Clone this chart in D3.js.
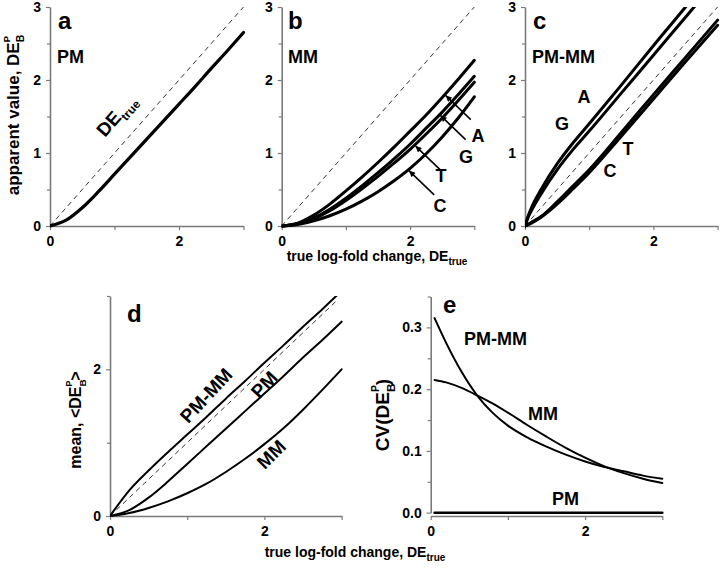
<!DOCTYPE html>
<html><head><meta charset="utf-8">
<script src="https://cdn.jsdelivr.net/npm/d3@7"></script>
<style>
body{margin:0;background:#fff}
svg text{font-family:"Liberation Sans",Arial,sans-serif;font-weight:bold;fill:#000}
</style></head><body>
<svg id="chart" width="720" height="569"></svg>
<script>
// ---------------- data ----------------
const xTrue = [0,0.25,0.5,0.75,1,1.25,1.5,1.75,2,2.25,2.5,2.75,3];
const pmValues = [0,0.08,0.25,0.47,0.71,0.95,1.19,1.43,1.67,1.91,2.16,2.4,2.65];

const mmA = [0,0.04,0.15,0.30,0.48,0.67,0.87,1.08,1.30,1.52,1.76,2.01,2.27];
const mmG = [0,0.03,0.11,0.23,0.38,0.55,0.73,0.92,1.12,1.34,1.56,1.80,2.05];
const mmT = [0,0.03,0.10,0.21,0.35,0.51,0.68,0.86,1.05,1.26,1.48,1.72,1.97];
const mmC = [0,0.02,0.07,0.14,0.23,0.34,0.47,0.62,0.79,0.99,1.22,1.48,1.77];

const xPair = [0,0.05,0.1,0.25,0.5,0.75,1,1.5,2,2.5,3];
const pairA = [0,0.14,0.25,0.50,0.85,1.14,1.40,1.93,2.47,3.00,3.55];
const pairG = [0,0.12,0.21,0.44,0.77,1.05,1.30,1.82,2.34,2.86,3.38];
const pairT = [0,0.02,0.05,0.13,0.33,0.55,0.77,1.28,1.80,2.31,2.82];
const pairC = [0,0.02,0.04,0.12,0.30,0.51,0.73,1.23,1.74,2.25,2.75];

const meanPMMM = [0,0.35,0.62,0.87,1.11,1.35,1.60,1.84,2.09,2.33,2.58,2.82,3.07];
const meanPM   = [0,0.08,0.25,0.47,0.71,0.95,1.19,1.43,1.67,1.91,2.16,2.40,2.65];
const meanMM   = [0,0.04,0.11,0.20,0.31,0.44,0.60,0.78,0.98,1.20,1.45,1.72,2.00];

const xCV   = [0.05,0.2,0.4,0.6,0.8,1,1.25,1.5,1.75,2,2.25,2.5,2.75,3];
const cvPMMM = [0.315,0.275,0.228,0.19,0.162,0.141,0.122,0.107,0.094,0.083,0.074,0.067,0.06,0.055];
const cvMM   = [0.215,0.211,0.202,0.19,0.177,0.162,0.142,0.123,0.105,0.089,0.075,0.064,0.055,0.048];
const cvPM   = [0,0,0,0,0,0,0,0,0,0,0,0,0,0];

const xTicks = [0,1,2,3], xTickLabels = [0,2];
const yTicksTop = [0,0.5,1,1.5,2,2.5,3], yTickLabelsTop = [0,1,2,3];
const yTicksD = [0,1,2,3], yTickLabelsD = [0,2];
const yTicksE = [0,0.05,0.1,0.15,0.2,0.25,0.3,0.35], yTickLabelsE = [0,0.1,0.2,0.3];

// ---------------- drawing ----------------
const svg = d3.select("#chart");
const AXC = "#7a7a7a";
let clipId = 0;
const zip = (xs, ys) => xs.map((v,i)=>[v, ys[i]]);
const near = (a,b) => Math.abs(a-b) < 1e-9;

function panel(cfg){
  const g = svg.append("g");
  const x = d3.scaleLinear().domain(cfg.xd).range(cfg.xr);
  const y = d3.scaleLinear().domain(cfg.yd).range(cfg.yr);
  const xAxisY = cfg.xAxisY !== undefined ? cfg.xAxisY : cfg.yr[0];
  const xa = g.append("g").attr("transform",`translate(0,${xAxisY})`)
    .call(d3.axisBottom(x).tickValues(cfg.xTicks)
      .tickFormat(d => cfg.xLabels.some(v=>near(v,d)) ? d3.format("d")(d) : "")
      .tickSizeInner(4).tickSizeOuter(0).tickPadding(6));
  const ya = g.append("g").attr("transform",`translate(${cfg.xr[0]},0)`)
    .call(d3.axisLeft(y).tickValues(cfg.yTicks)
      .tickFormat(d => cfg.yLabels.some(v=>near(v,d)) ? d3.format(cfg.yFmt||"d")(d) : "")
      .tickSizeInner(4).tickSizeOuter(0).tickPadding(5));
  [xa, ya].forEach(a=>{
    a.select(".domain").attr("stroke",AXC).attr("stroke-width",1.6);
    a.selectAll(".tick line").attr("stroke",AXC).attr("stroke-width",1.2);
    a.selectAll(".tick text").style("font-size","14px").style("font-weight","bold")
      .style("font-family",'"Liberation Sans",Arial,sans-serif').attr("fill","#000");
  });
  ya.selectAll(".tick").filter(d=>!cfg.yLabels.some(v=>near(v,d))).select("line").attr("x2",-3);
  const id = "clip" + (clipId++);
  g.append("clipPath").attr("id",id).append("rect")
    .attr("x",cfg.xr[0]).attr("y",cfg.yr[1]).attr("width",cfg.xr[1]-cfg.xr[0]+3).attr("height",cfg.yr[0]-cfg.yr[1]+3);
  const plot = g.append("g").attr("clip-path",`url(#${id})`);
  return {g, x, y, plot};
}

function curve(p, xs, ys, w){
  const line = d3.line().x(d=>p.x(d[0])).y(d=>p.y(d[1])).curve(d3.curveMonotoneX);
  p.plot.append("path").datum(zip(xs,ys)).attr("d",line)
    .attr("fill","none").attr("stroke","#000").attr("stroke-width",w).attr("stroke-linecap","round");
}
function dashed(p, x1){
  p.plot.append("line").attr("x1",p.x(0)).attr("y1",p.y(0)).attr("x2",p.x(x1)).attr("y2",p.y(x1))
    .attr("stroke","#333").attr("stroke-width",1).attr("stroke-dasharray","5,4");
}
function label(g, txt, x, y, size, rot, anchor){
  const t = g.append("text").attr("x",x).attr("y",y).style("font-size",size+"px")
    .attr("text-anchor",anchor||"start").text(txt);
  if (rot) t.attr("transform",`rotate(${rot},${x},${y})`);
  return t;
}
function deBP(t, size){
  t.append("tspan").text("DE");
  t.append("tspan").attr("dy",size*0.3).style("font-size",(size*0.62)+"px").text("B");
  t.append("tspan").attr("dx",-size*0.45).attr("dy",-size*0.85).style("font-size",(size*0.55)+"px").text("P");
}
const interp = (xs, ys, v) => d3.scaleLinear().domain(xs).range(ys)(v);

const topCfg = {yd:[0,3], yr:[226,7], xd:[0,3], xTicks, xLabels:xTickLabels, yTicks:yTicksTop, yLabels:yTickLabelsTop};

// panel a
const pa = panel({...topCfg, xr:[50,243.5]});
dashed(pa, 3);
curve(pa, xTrue, pmValues, 3.2);
label(pa.g, "a", 58, 29, 24);
label(pa.g, "PM", 57, 63, 18);
{
  const t = label(pa.g, "", 105, 138, 19, -48.7);
  t.append("tspan").text("DE");
  t.append("tspan").attr("dy",5).style("font-size","12px").text("true");
}

// panel b
const pb = panel({...topCfg, xr:[281.7,474.3]});
dashed(pb, 3);
[mmA, mmG, mmT, mmC].forEach(s => curve(pb, xTrue, s, 3));
label(pb.g, "b", 288, 29, 24);
label(pb.g, "MM", 288, 63, 18);
const defs = svg.append("defs");
defs.append("marker").attr("id","arr").attr("viewBox","0 0 10 10").attr("refX",10).attr("refY",5)
  .attr("markerWidth",9).attr("markerHeight",6).attr("orient","auto").attr("markerUnits","userSpaceOnUse")
  .append("path").attr("d","M0,0L10,5L0,10z").attr("fill","#000");
const arrows = [
  {s:mmA, at:2.54, name:"A", lx:478, ly:142},
  {s:mmG, at:2.46, name:"G", lx:466, ly:163},
  {s:mmT, at:2.07, name:"T", lx:441, ly:182},
  {s:mmC, at:1.97, name:"C", lx:440, ly:212}
];
arrows.forEach(a=>{
  const tx = pb.x(a.at), ty = pb.y(interp(xTrue, a.s, a.at));
  pb.g.append("line").attr("x1",tx+26).attr("y1",ty+25).attr("x2",tx+1).attr("y2",ty+1)
    .attr("stroke","#000").attr("stroke-width",1.6).attr("marker-end","url(#arr)");
  label(pb.g, a.name, a.lx, a.ly, 18, 0, "middle");
});

// panel c
const pc = panel({...topCfg, xr:[525,717.6]});
dashed(pc, 3);
[pairA, pairG, pairT, pairC].forEach(s => curve(pc, xPair, s, 3));
label(pc.g, "c", 533, 29, 24);
label(pc.g, "PM-MM", 532, 63, 18);
label(pc.g, "A", 584, 103, 18, 0, "middle");
label(pc.g, "G", 562, 130, 18, 0, "middle");
label(pc.g, "T", 628, 155, 18, 0, "middle");
label(pc.g, "C", 610, 177, 18, 0, "middle");

// panel d
const pd = panel({xd:[0,3], xr:[110,341.6], yd:[0,3], yr:[516,296], xTicks, xLabels:xTickLabels, yTicks:yTicksD, yLabels:yTickLabelsD});
dashed(pd, 2.95);
curve(pd, xTrue, meanPMMM, 2);
curve(pd, xTrue, meanPM, 2);
curve(pd, xTrue, meanMM, 2);
label(pd.g, "d", 127, 322, 24);
label(pd.g, "PM-MM", 211, 400, 19, -47, "middle");
label(pd.g, "PM", 269, 389, 19, -47, "middle");
label(pd.g, "MM", 276, 459, 19, -45, "middle");

// panel e
const pe = panel({xd:[0,3], xr:[430.7,662.3], yd:[0,0.35], yr:[512.7,296.5], xAxisY:516, xTicks, xLabels:xTickLabels, yTicks:yTicksE, yLabels:yTickLabelsE, yFmt:".1f"});
curve(pe, xCV, cvPMMM, 2);
curve(pe, xCV, cvMM, 2);
curve(pe, xCV, cvPM, 2.5);
label(pe.g, "e", 443, 313, 24);
label(pe.g, "PM-MM", 464, 345, 18);
label(pe.g, "MM", 528, 420, 18);
label(pe.g, "PM", 552, 505, 18);

// axis titles
{
  const t = label(svg, "", 19, 115, 17, -90, "middle");
  t.append("tspan").text("apparent value, ");
  deBP(t, 17);
}
{
  const t = label(svg, "", 377, 261, 14, 0, "middle");
  t.append("tspan").text("true log-fold change, DE");
  t.append("tspan").attr("dy",4).style("font-size","10px").text("true");
}
{
  const t = label(svg, "", 355, 557, 14, 0, "middle");
  t.append("tspan").text("true log-fold change, DE");
  t.append("tspan").attr("dy",4).style("font-size","10px").text("true");
}
{
  const t = label(svg, "", 81, 420, 16, -90, "middle");
  t.append("tspan").text("mean, <");
  deBP(t, 16);
  t.append("tspan").attr("dy",16*0.55).text(">");
}
{
  const t = label(svg, "", 389, 415, 19, -90, "middle");
  t.append("tspan").text("CV(");
  deBP(t, 19);
  t.append("tspan").attr("dy",19*0.55).text(")");
}
</script>
</body></html>
